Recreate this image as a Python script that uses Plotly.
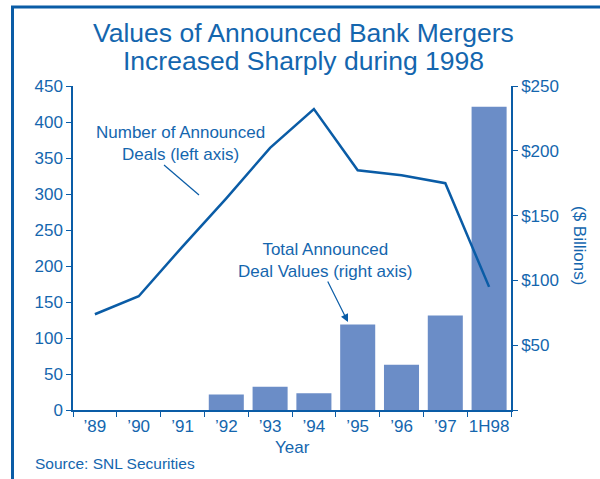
import plotly.graph_objects as go

years = ["’89", "’90", "’91", "’92", "’93", "’94", "’95", "’96", "’97", "1H98"]
deal_count = [133, 158, 227, 294, 364, 418, 333, 326, 315, 171]
deal_value = [0, 0, 0, 12, 18, 13, 66, 35, 73, 234]

blue_text = "#1466AE"
blue_line = "#0A5CA6"
bar_col = "#6B8DC7"
fnt = "Liberation Sans, Arial, sans-serif"

fig = go.Figure()
# bars on the primary axis (drawn right), line on the overlay axis so it sits on top
fig.add_trace(go.Bar(x=years, y=deal_value, yaxis="y", marker_color=bar_col,
                     marker_line_width=0, width=0.8))
fig.add_trace(go.Scatter(x=years, y=deal_count, mode="lines", yaxis="y2",
                         line=dict(color=blue_line, width=2.5)))

fig.update_layout(
    width=600, height=479, autosize=False,
    margin=dict(l=73, r=89, t=86, b=69),
    paper_bgcolor="white", plot_bgcolor="white",
    showlegend=False,
    font=dict(family=fnt, color=blue_text, size=17),
    xaxis=dict(type="category", range=[-0.5, 9.5], showline=True, linecolor=blue_line,
               linewidth=1.5, ticks="outside", tickson="boundaries", ticklen=5,
               tickcolor=blue_line, showgrid=False, tickfont=dict(size=17),
               tickangle=0, automargin=False),
    yaxis=dict(range=[0, 250], side="right", showline=True,
               tickvals=[0, 50, 100, 150, 200, 250],
               ticktext=["", "$50", "$100", "$150", "$200", "$250"],
               linecolor=blue_line, linewidth=1.5, ticks="outside", ticklen=5,
               tickcolor=blue_line, showgrid=False, zeroline=False,
               tickfont=dict(size=17), automargin=False),
    yaxis2=dict(range=[0, 450], overlaying="y", side="left",
                tickvals=list(range(0, 451, 50)), showline=True,
                linecolor=blue_line, linewidth=1.5, ticks="outside", ticklen=5,
                tickcolor=blue_line, showgrid=False, zeroline=False,
                tickfont=dict(size=17), automargin=False),
)

def px2x(px):
    return (px - 73) / 438

def px2y(py):
    return (410 - py) / 324

# frame lines on left and top
fig.add_shape(type="line", xref="paper", yref="paper", x0=px2x(12.5), x1=px2x(12.5),
              y0=px2y(7), y1=px2y(482), line=dict(color=blue_line, width=3))
fig.add_shape(type="line", xref="paper", yref="paper", x0=px2x(11), x1=px2x(602),
              y0=px2y(7), y1=px2y(7), line=dict(color=blue_line, width=3))

# leader line for the deals label
fig.add_shape(type="line", xref="paper", yref="paper", x0=px2x(164), y0=px2y(165),
              x1=px2x(199), y1=px2y(195), line=dict(color=blue_line, width=1.2))

ann = [
    dict(text="Values of Announced Bank Mergers", x=px2x(303), y=px2y(33), size=26.5),
    dict(text="Increased Sharply during 1998", x=px2x(303), y=px2y(61), size=26.5),
    dict(text="Number of Announced<br>Deals (left axis)", x=px2x(180), y=px2y(143), size=17),
    dict(text="Total Announced<br>Deal Values (right axis)", x=px2x(325), y=px2y(260), size=17),
    dict(text="Year", x=px2x(292), y=px2y(447), size=17),
]
for a in ann:
    fig.add_annotation(text=a["text"], x=a["x"], y=a["y"], xref="paper", yref="paper",
                       showarrow=False, xanchor="center", yanchor="middle",
                       font=dict(size=a["size"], color=blue_text, family=fnt))

fig.add_annotation(text="Source: SNL Securities", x=px2x(33), y=px2y(463), xref="paper",
                   yref="paper", showarrow=False, xanchor="left", yanchor="middle",
                   font=dict(size=15.5, color=blue_text, family=fnt))
fig.add_annotation(text="($ Billions)", x=px2x(580), y=px2y(245), xref="paper",
                   yref="paper", showarrow=False, textangle=90,
                   xanchor="center", yanchor="middle",
                   font=dict(size=17, color=blue_text, family=fnt))

# arrow to the '95 bar
fig.add_annotation(text="", x=px2x(348), y=px2y(322), xref="paper", yref="paper",
                   ax=-21, ay=-42, showarrow=True, arrowhead=2, arrowsize=1.3,
                   arrowwidth=1.2, arrowcolor=blue_line)

fig.write_html("out.html", post_script="document.body.style.margin='0';",
               config={"displayModeBar": False})
